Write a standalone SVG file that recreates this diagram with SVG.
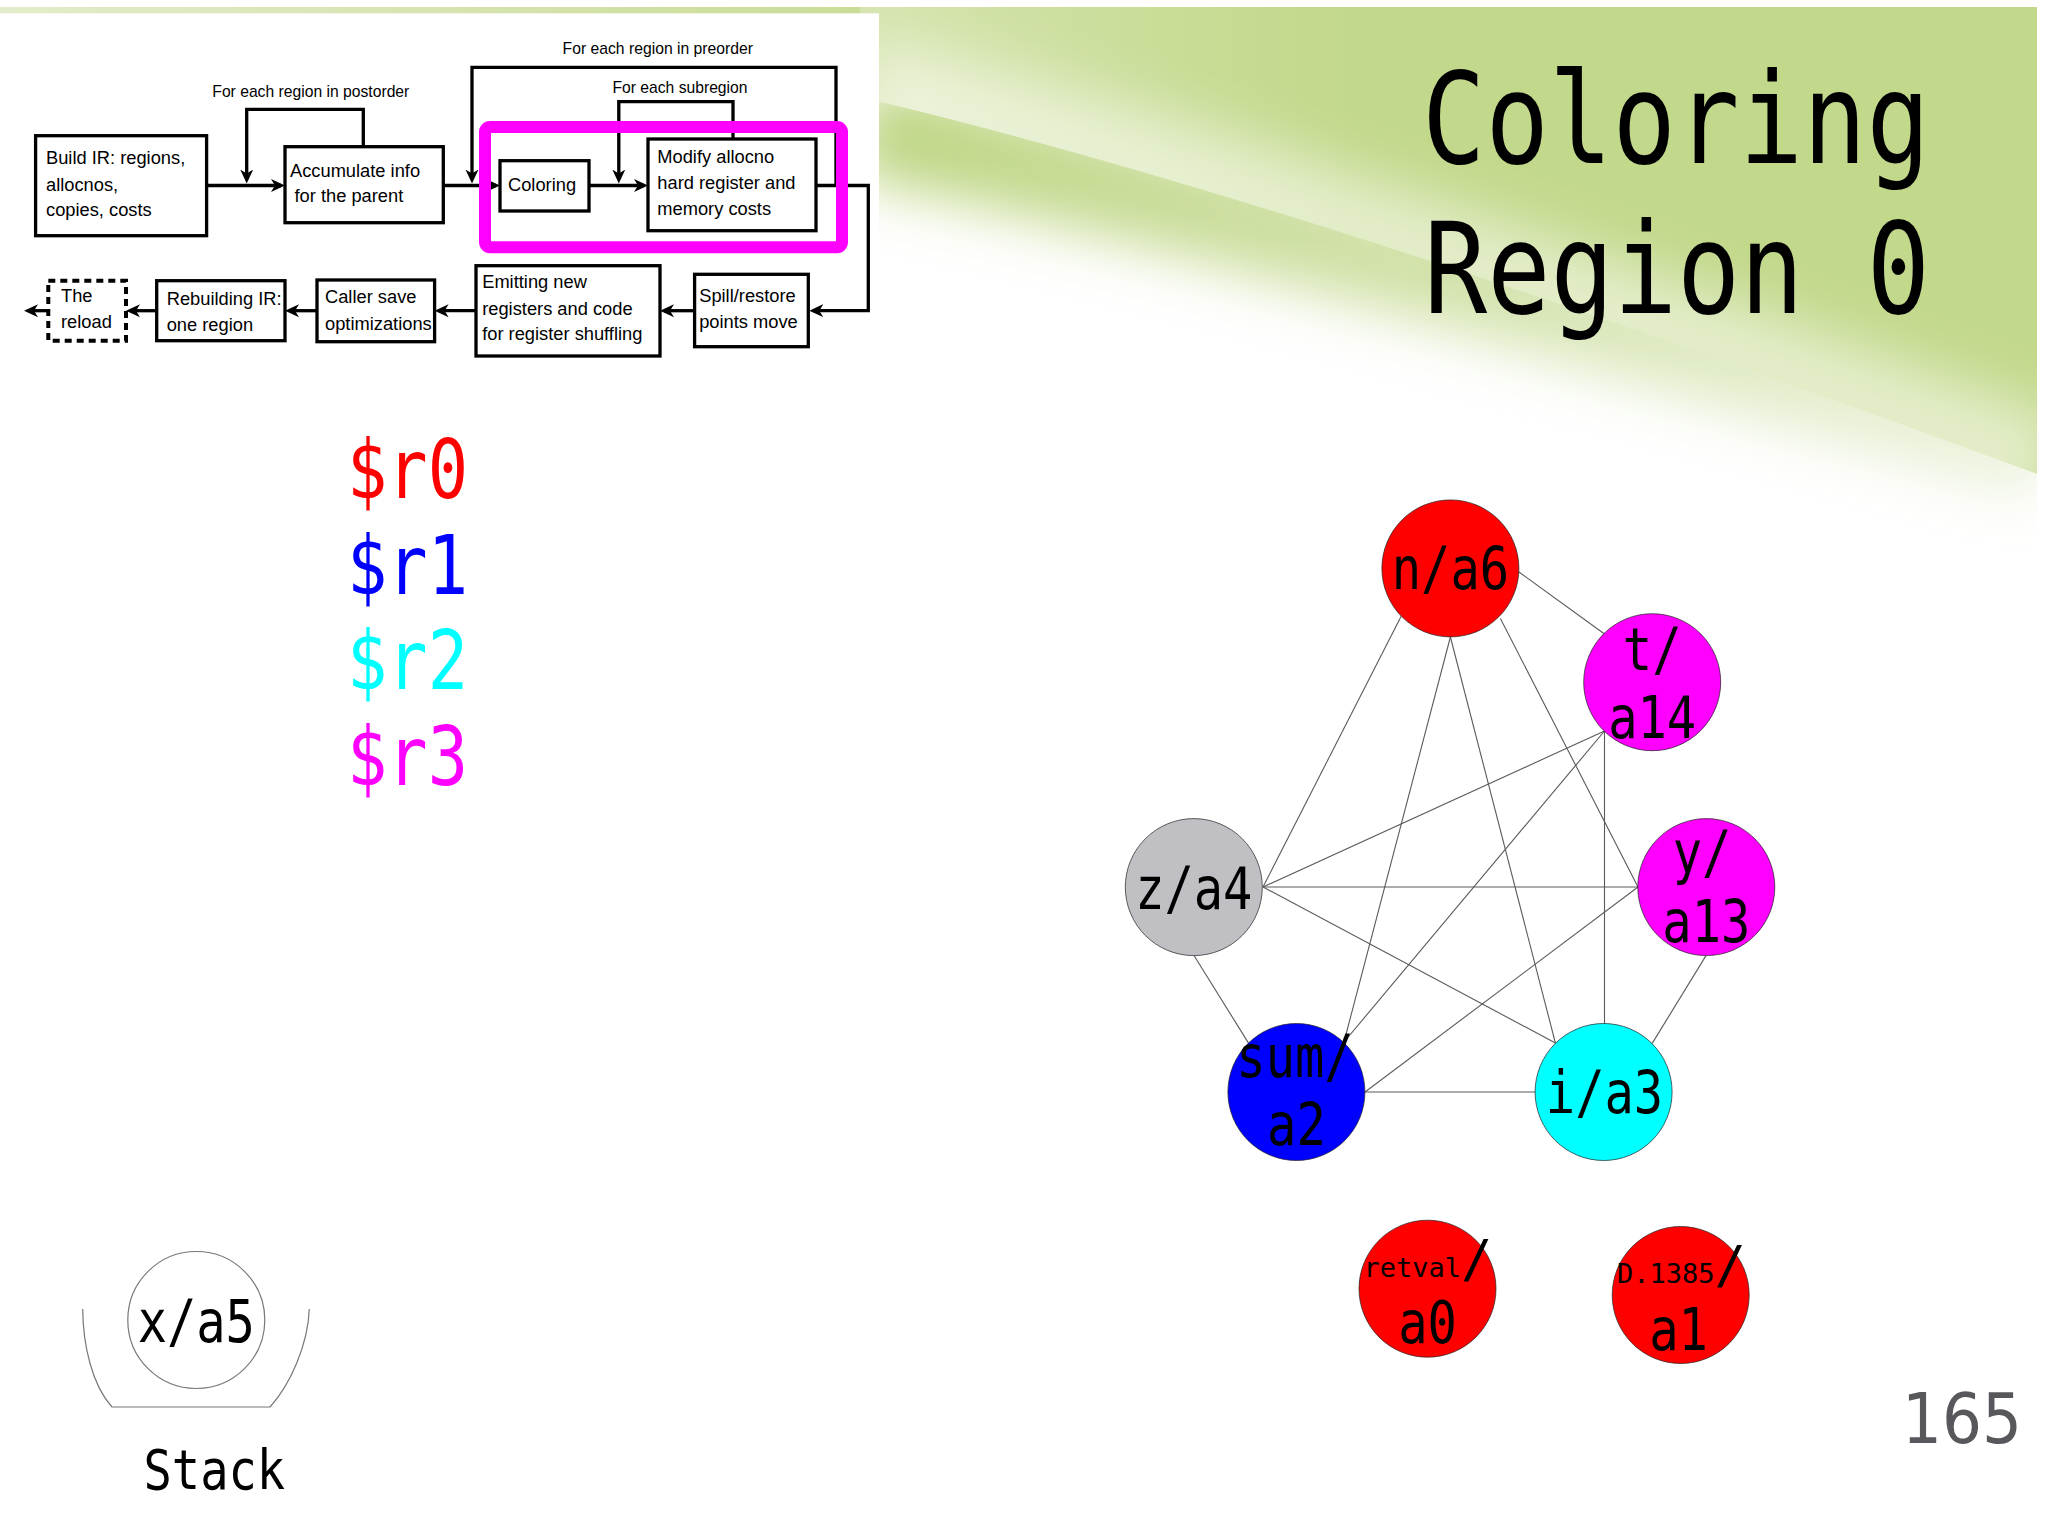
<svg xmlns="http://www.w3.org/2000/svg" width="2048" height="1536" viewBox="0 0 2048 1536">
<style>
.fcbox{fill:#fff;stroke:#000;stroke-width:3.3}
.fct{font-family:"Liberation Sans",Arial,sans-serif;font-size:18.3px;fill:#000}
.fcl{font-family:"Liberation Sans",Arial,sans-serif;font-size:15.7px;fill:#000}
.fcline{fill:none;stroke:#000;stroke-width:3.3;marker-end:url(#ah)}
.mono{font-family:"DejaVu Sans Mono","Liberation Mono",monospace;fill:#000}
.nl{font-size:58px;text-anchor:middle}
.edge{stroke:#5a5a5a;stroke-width:1.1;fill:none}
.nc{stroke:#222;stroke-width:1;stroke-opacity:0.7}
.reg{font-family:"DejaVu Sans Mono","Liberation Mono",monospace;font-size:82px}
</style>
<defs>
<marker id="ah" markerUnits="userSpaceOnUse" markerWidth="16" markerHeight="14" refX="10" refY="7" orient="auto">
<path d="M0,0.5 L14,7 L0,13.5 L4,7 Z" fill="#000"/>
</marker>
<linearGradient id="topbar" x1="0" y1="0" x2="1" y2="0"><stop offset="0" stop-color="#e2ecca"/><stop offset="1" stop-color="#c9dc96"/></linearGradient>
<linearGradient id="gA" gradientUnits="userSpaceOnUse" x1="860" y1="0" x2="1350" y2="0"><stop offset="0" stop-color="#d5e4ae"/><stop offset="1" stop-color="#c2d88a"/></linearGradient>
<linearGradient id="gBand" gradientUnits="userSpaceOnUse" x1="860" y1="0" x2="2048" y2="0"><stop offset="0" stop-color="#bcd47f" stop-opacity="1"/><stop offset="0.5" stop-color="#c6da93" stop-opacity="0.8"/><stop offset="1" stop-color="#d6e5b5" stop-opacity="0.45"/></linearGradient>
<filter id="blur30" x="-20%" y="-60%" width="140%" height="220%"><feGaussianBlur stdDeviation="28"/></filter>
<clipPath id="clipA"><path d="M860,7 H2048 V478 Q1300,200 860,97 Z"/></clipPath>
<clipPath id="clipB"><path d="M860,97 Q1300,200 2048,478 V800 H860 Z"/></clipPath>
</defs>

<g id="background">
<rect x="0" y="0" width="2048" height="1536" fill="#fff"/>
<rect x="0" y="7" width="880" height="8" fill="url(#topbar)"/>
<path d="M860,7 H2048 V478 Q1300,200 860,97 Z" fill="url(#gA)"/>
<g clip-path="url(#clipA)">
<path d="M860,92 Q1300,195 2048,473" fill="none" stroke="#ffffff" stroke-opacity="0.55" stroke-width="110" filter="url(#blur30)"/>
</g>
<g clip-path="url(#clipB)">
<path d="M860,127 Q1300,222 2048,452" fill="none" stroke="url(#gBand)" stroke-width="100" filter="url(#blur30)"/>
</g>
<rect x="2037" y="0" width="11" height="600" fill="#fff"/>
<rect x="0" y="13.3" width="879" height="390" fill="#fff"/>
</g>

<g id="flowchart">
<g id="fc-connectors">
<path class="fcline" d="M206.7,185.5 H281"/>
<path class="fcline" d="M363.3,146.7 V109.3 H246.7 V179.5"/>
<path class="fcline" d="M443.3,185.5 H496"/>
<path class="fcline" d="M836,185.5 V67.3 H472 V179.5"/>
<path class="fcline" d="M733,139 V101.7 H618.8 V179.5"/>
<path class="fcline" d="M589,185.5 H644"/>
<path class="fcline" d="M816,185.5 H868.3 V310.7 H813.3"/>
<path class="fcline" d="M694.6,310.7 H664"/>
<path class="fcline" d="M476,310.7 H438.6"/>
<path class="fcline" d="M317,310.7 H289"/>
<path class="fcline" d="M156.7,310.7 H130"/>
<path class="fcline" d="M48.3,310.7 H28"/>
</g>
<text class="fcl" x="212.3" y="97.3" textLength="197" lengthAdjust="spacingAndGlyphs">For each region in postorder</text>
<text class="fcl" x="562.6" y="54.3" textLength="190.4" lengthAdjust="spacingAndGlyphs">For each region in preorder</text>
<text class="fcl" x="612.5" y="93.3" textLength="135" lengthAdjust="spacingAndGlyphs">For each subregion</text>

<g id="fc-build">
<rect class="fcbox" x="35.6" y="135.7" width="171" height="100"/>
<text class="fct" x="46" y="164.3">Build IR: regions,</text>
<text class="fct" x="46" y="190.7">allocnos,</text>
<text class="fct" x="46" y="216.3">copies, costs</text>
</g>
<g id="fc-accumulate">
<rect class="fcbox" x="285" y="146.7" width="158.3" height="76"/>
<text class="fct" x="290" y="176.7">Accumulate info</text>
<text class="fct" x="294.5" y="201.7">for the parent</text>
</g>
<g id="fc-coloring">
<rect class="fcbox" x="500" y="160.7" width="89" height="50.3"/>
<text class="fct" x="508" y="191">Coloring</text>
</g>
<g id="fc-modify">
<rect class="fcbox" x="648" y="139" width="168" height="91.7"/>
<text class="fct" x="657.3" y="163.3">Modify allocno</text>
<text class="fct" x="657.3" y="189.3">hard register and</text>
<text class="fct" x="657.3" y="215">memory costs</text>
</g>
<g id="fc-spill">
<rect class="fcbox" x="694.6" y="274.3" width="113.7" height="72.4"/>
<text class="fct" x="699.2" y="301.7">Spill/restore</text>
<text class="fct" x="699.2" y="328.3">points move</text>
</g>
<g id="fc-emitting">
<rect class="fcbox" x="476" y="265.7" width="184" height="90.3"/>
<text class="fct" x="482.2" y="288.3">Emitting new</text>
<text class="fct" x="482.2" y="315">registers and code</text>
<text class="fct" x="482.2" y="340">for register shuffling</text>
</g>
<g id="fc-caller">
<rect class="fcbox" x="317" y="280" width="117.6" height="61.7"/>
<text class="fct" x="325" y="303.3">Caller save</text>
<text class="fct" x="325" y="330">optimizations</text>
</g>
<g id="fc-rebuilding">
<rect class="fcbox" x="156.7" y="280.7" width="128.3" height="60"/>
<text class="fct" x="166.7" y="305">Rebuilding IR:</text>
<text class="fct" x="166.7" y="330.7">one region</text>
</g>
<g id="fc-reload">
<rect x="48.3" y="280.7" width="77.7" height="60" fill="#fff" stroke="#000" stroke-width="4" stroke-dasharray="7 5"/>
<text class="fct" x="61" y="301.7">The</text>
<text class="fct" x="61" y="328.3">reload</text>
</g>
<rect id="highlight" x="485" y="127" width="357" height="120.3" rx="5" fill="none" stroke="#ff00ff" stroke-width="12"/>
</g>

<g id="title">
<text class="mono" x="1422" y="163" font-size="127" textLength="508" lengthAdjust="spacingAndGlyphs">Coloring</text>
<text class="mono" x="1424" y="313" font-size="127" textLength="506" lengthAdjust="spacingAndGlyphs">Region 0</text>
</g>

<g id="registers">
<text class="reg" x="347" y="498" fill="#ff0000" textLength="121" lengthAdjust="spacingAndGlyphs">$r0</text>
<text class="reg" x="347" y="593.5" fill="#0000ff" textLength="121" lengthAdjust="spacingAndGlyphs">$r1</text>
<text class="reg" x="347" y="689" fill="#00ffff" textLength="121" lengthAdjust="spacingAndGlyphs">$r2</text>
<text class="reg" x="347" y="785" fill="#ff00ff" textLength="121" lengthAdjust="spacingAndGlyphs">$r3</text>
</g>

<g id="edges">
<line class="edge" x1="1518.3" y1="571.5" x2="1604.5" y2="634"/>
<line class="edge" x1="1401.3" y1="616" x2="1263" y2="887"/>
<line class="edge" x1="1450.4" y1="637" x2="1344" y2="1042"/>
<line class="edge" x1="1450.4" y1="637" x2="1555.4" y2="1043"/>
<line class="edge" x1="1500.4" y1="618.4" x2="1638" y2="887"/>
<line class="edge" x1="1604.5" y1="731" x2="1263" y2="887"/>
<line class="edge" x1="1604.5" y1="731" x2="1344" y2="1042"/>
<line class="edge" x1="1604.5" y1="731" x2="1604.5" y2="1024"/>
<line class="edge" x1="1263" y1="887" x2="1638" y2="887"/>
<line class="edge" x1="1263" y1="887" x2="1555.4" y2="1043"/>
<line class="edge" x1="1194" y1="955.5" x2="1248.7" y2="1043.4"/>
<line class="edge" x1="1638" y1="887" x2="1365" y2="1092"/>
<line class="edge" x1="1706" y1="955.6" x2="1652.2" y2="1043.4"/>
<line class="edge" x1="1365" y1="1092" x2="1535" y2="1092"/>
</g>

<g id="node-n-a6">
<circle class="nc" cx="1450.4" cy="568.4" r="68.5" fill="#ff0000"/>
<text class="mono nl" x="1450.4" y="589.4" textLength="117.3" lengthAdjust="spacingAndGlyphs">n/a6</text>
</g>
<g id="node-t-a14">
<circle class="nc" cx="1652.2" cy="682.2" r="68.5" fill="#ff00ff"/>
<text class="mono nl" x="1652.2" y="669.7" textLength="58.7" lengthAdjust="spacingAndGlyphs">t/</text>
<text class="mono nl" x="1652.2" y="738" textLength="88" lengthAdjust="spacingAndGlyphs">a14</text>
</g>
<g id="node-y-a13">
<circle class="nc" cx="1706.3" cy="887.1" r="68.5" fill="#ff00ff"/>
<text class="mono nl" x="1702" y="873" textLength="58.7" lengthAdjust="spacingAndGlyphs">y/</text>
<text class="mono nl" x="1706.3" y="942" textLength="88" lengthAdjust="spacingAndGlyphs">a13</text>
</g>
<g id="node-z-a4">
<circle class="nc" cx="1193.8" cy="887.1" r="68.5" fill="#c0bfc4"/>
<text class="mono nl" x="1193.8" y="908.6" textLength="117.3" lengthAdjust="spacingAndGlyphs">z/a4</text>
</g>
<g id="node-sum-a2">
<circle class="nc" cx="1296.4" cy="1092" r="68.5" fill="#0000ff"/>
<text class="mono nl" x="1295" y="1077.3" textLength="117.3" lengthAdjust="spacingAndGlyphs">sum/</text>
<text class="mono nl" x="1296.4" y="1145" textLength="58.7" lengthAdjust="spacingAndGlyphs">a2</text>
</g>
<g id="node-i-a3">
<circle class="nc" cx="1603.6" cy="1092" r="68.5" fill="#00ffff"/>
<text class="mono nl" x="1604.5" y="1113" textLength="117.3" lengthAdjust="spacingAndGlyphs">i/a3</text>
</g>
<g id="node-retval-a0">
<circle class="nc" cx="1427.5" cy="1288.7" r="68.5" fill="#ff0000"/>
<text class="mono" x="1363.5" y="1276.7"><tspan font-size="27">retval</tspan><tspan font-size="52">/</tspan></text>
<text class="mono nl" x="1427.5" y="1343.3" textLength="58.7" lengthAdjust="spacingAndGlyphs">a0</text>
</g>
<g id="node-d1385-a1">
<circle class="nc" cx="1680.7" cy="1295" r="68.5" fill="#ff0000"/>
<text class="mono" x="1617" y="1283.3"><tspan font-size="27">D.1385</tspan><tspan font-size="52">/</tspan></text>
<text class="mono nl" x="1678.5" y="1350" textLength="58.7" lengthAdjust="spacingAndGlyphs">a1</text>
</g>

<g id="stack">
<path d="M82.7,1309 C83,1345 92,1385 112,1407 L270,1407 C290,1385 308,1345 309.3,1309" fill="none" stroke="#777" stroke-width="1.2"/>
<g id="node-x-a5">
<circle cx="196.3" cy="1320" r="68.5" fill="#fff" stroke="#777" stroke-width="1.2"/>
<text class="mono nl" x="196.3" y="1341.7" textLength="117.3" lengthAdjust="spacingAndGlyphs">x/a5</text>
</g>
<text class="mono" x="214.3" y="1489.3" font-size="56" text-anchor="middle" textLength="141.6" lengthAdjust="spacingAndGlyphs">Stack</text>
</g>

<text id="page-number" x="1902" y="1442.5" font-family="'DejaVu Sans','Liberation Sans',sans-serif" font-size="69" fill="#58575c" textLength="120" lengthAdjust="spacingAndGlyphs">165</text>
</svg>
